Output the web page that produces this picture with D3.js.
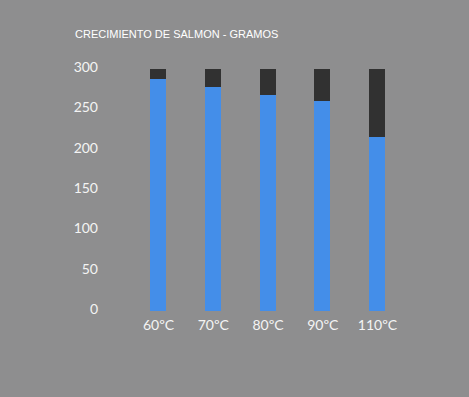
<!DOCTYPE html>
<html>
<head>
<meta charset="utf-8">
<script src="https://cdn.jsdelivr.net/npm/d3@7"></script>
<style>
  html, body { margin: 0; padding: 0; background: #8e8e8f; }
  svg { display: block; }
</style>
</head>
<body>
<svg id="chart" width="469" height="397"></svg>
<script>
var categories = ["60ºC", "70ºC", "80ºC", "90ºC", "110ºC"];
var crecimiento = [288, 278, 268, 260, 216];
var maximo = [300, 300, 300, 300, 300];
var yTicks = [0, 50, 100, 150, 200, 250, 300];

var svg = d3.select("#chart");
var font = "Lato, 'Open Sans', sans-serif";

svg.append("rect").attr("width", 469).attr("height", 397).attr("fill", "#8e8e8f");

var x = d3.scalePoint().domain(categories).range([158, 377]);
var y = d3.scaleLinear().domain([0, 300]).range([311, 69]);
var barW = 16;

svg.append("text")
    .attr("x", 75).attr("y", 38)
    .attr("fill", "#ffffff")
    .style("font-family", "'Liberation Sans', Arial, sans-serif")
    .style("font-size", "11px")
    .text("CRECIMIENTO DE SALMON - GRAMOS");

// fondo oscuro de cada barra (hasta 300)
svg.selectAll(".bg").data(categories).enter()
    .append("rect").attr("class", "bg")
    .attr("x", function(d){ return Math.round(x(d) - barW/2); })
    .attr("y", function(d, i){ return Math.round(y(maximo[i])); })
    .attr("width", barW)
    .attr("height", function(d, i){ return Math.round(y(0) - y(maximo[i])); })
    .attr("shape-rendering", "crispEdges")
    .attr("fill", "#313131");

svg.selectAll(".val").data(categories).enter()
    .append("rect").attr("class", "val")
    .attr("x", function(d){ return Math.round(x(d) - barW/2); })
    .attr("y", function(d, i){ return Math.round(y(crecimiento[i])); })
    .attr("width", barW)
    .attr("height", function(d, i){ return Math.round(y(0) - y(crecimiento[i])); })
    .attr("shape-rendering", "crispEdges")
    .attr("fill", "#448ee9");

var yAxis = svg.append("g")
    .attr("transform", "translate(98,-2)")
    .call(d3.axisLeft(y).tickValues(yTicks).tickSize(0).tickPadding(0));
yAxis.select(".domain").remove();
yAxis.selectAll("text")
    .attr("fill", "#f4f4f4")
    .style("font-family", font)
    .style("font-size", "14px");

var xAxis = svg.append("g")
    .attr("transform", "translate(0,320)")
    .call(d3.axisBottom(x).tickSize(0).tickPadding(0));
xAxis.select(".domain").remove();
xAxis.selectAll("text")
    .attr("fill", "#f4f4f4")
    .style("font-family", font)
    .style("font-size", "14px");
</script>
</body>
</html>
